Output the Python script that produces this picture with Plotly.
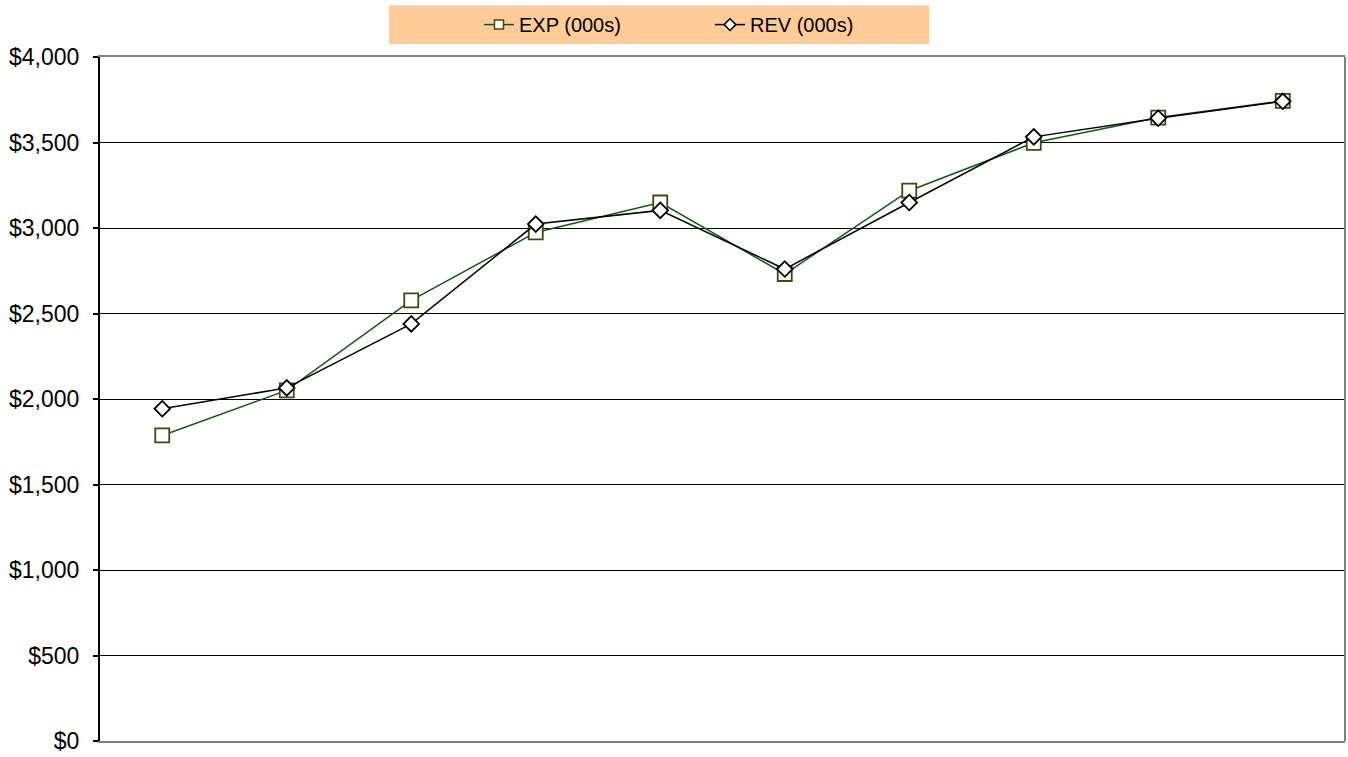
import plotly.graph_objects as go

categories = ["1", "2", "3", "4", "5", "6", "7", "8", "9", "10"]
exp_values = [1787, 2050, 2577, 2974, 3149, 2731, 3218, 3498, 3646, 3743]
rev_values = [1943, 2065, 2439, 3023, 3103, 2760, 3149, 3533, 3642, 3741]
y_ticks = [0, 500, 1000, 1500, 2000, 2500, 3000, 3500, 4000]

FONT = "Liberation Sans, Arial, sans-serif"
EXP_LINE = "#125812"
EXP_EDGE = "#46460F"

fig = go.Figure()
fig.add_trace(go.Scatter(
    x=categories, y=exp_values, name="EXP (000s)", mode="lines+markers",
    showlegend=False,
    line=dict(color=EXP_LINE, width=1.5),
    marker=dict(symbol="square", size=14, color="white",
                line=dict(color=EXP_EDGE, width=1.8)),
))
fig.add_trace(go.Scatter(
    x=categories, y=rev_values, name="REV (000s)", mode="lines+markers",
    showlegend=False,
    line=dict(color="black", width=1.5),
    marker=dict(symbol="diamond", size=12, color="white",
                line=dict(color="black", width=1.8)),
))
# legend entries (smaller legend symbols, as in the reference)
fig.add_trace(go.Scatter(
    x=[None], y=[None], name="EXP (000s)", mode="lines+markers",
    line=dict(color=EXP_LINE, width=1.5),
    marker=dict(symbol="square", size=9, color="white",
                line=dict(color=EXP_EDGE, width=1.5)),
))
fig.add_trace(go.Scatter(
    x=[None], y=[None], name="REV (000s)", mode="lines+markers",
    line=dict(color="black", width=1.5),
    marker=dict(symbol="diamond", size=9, color="white",
                line=dict(color="black", width=1.5)),
))

W, H = 1348, 757
L, R, T, B = 100, 3, 57, 14
pw, ph = W - L - R, H - T - B

def px_x(p):
    return (p - L) / pw

def px_y(p):
    return (H - B - p) / ph

shapes = [
    dict(type="rect", xref="paper", yref="paper",
         x0=px_x(389), x1=px_x(929), y0=px_y(44), y1=px_y(5),
         fillcolor="#FFCC99", line=dict(width=0), layer="below"),
    dict(type="line", xref="paper", yref="paper", x0=1, x1=1, y0=0, y1=1,
         line=dict(color="#808080", width=2)),
]

fig.update_layout(
    width=W, height=H,
    margin=dict(l=L, r=R, t=T, b=B, pad=0),
    paper_bgcolor="white", plot_bgcolor="white",
    font=dict(family=FONT, size=20, color="black"),
    showlegend=True,
    legend=dict(orientation="h", x=px_x(479), xanchor="left",
                y=px_y(24.5), yanchor="middle",
                bgcolor="rgba(0,0,0,0)", font=dict(size=20),
                entrywidth=186, entrywidthmode="pixels",
                itemclick=False, itemdoubleclick=False),
    shapes=shapes,
    xaxis=dict(type="category", range=[-0.5, 9.5], showticklabels=False,
               showgrid=False, zeroline=False, ticks="",
               showline=True, mirror=True, linecolor="#808080", linewidth=2),
    yaxis=dict(range=[0, 4000], tickvals=y_ticks, tickformat="$,",
               showgrid=True, gridcolor="black", gridwidth=1,
               zeroline=False, ticks="outside", ticklen=5, tickcolor="black",
               tickwidth=1.5, showline=True, linecolor="black", linewidth=2,
               ticklabelstandoff=9,
               tickfont=dict(family=FONT, size=23, color="black")),
)

fig.write_html("out.html")
